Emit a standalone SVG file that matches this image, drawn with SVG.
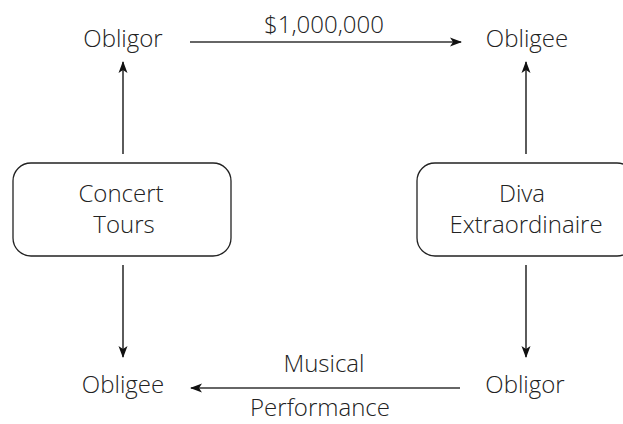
<svg xmlns="http://www.w3.org/2000/svg" width="623" height="424" viewBox="0 0 623 424">
<style>
text{font-family:"Open Sans","Noto Sans","Liberation Sans",sans-serif;font-size:24px;font-weight:300;fill:#222;text-anchor:middle}
.box{fill:#fff;stroke:#222;stroke-width:1.3}
.c{stroke:#333;stroke-width:1.6;fill:none;marker-end:url(#ah)}
</style>
<defs>
<marker id="ah" viewBox="0 0 12 10" refX="11" refY="5" markerWidth="12" markerHeight="10" markerUnits="userSpaceOnUse" orient="auto">
<path d="M0,0.5 L12,5 L0,9.5 L3,5 Z" fill="#111"/>
</marker>
</defs>
<rect width="623" height="424" fill="#fff"/>
<g id="obligor-top"><text x="123" y="47">Obligor</text></g>
<g id="obligee-top"><text x="527" y="47">Obligee</text></g>
<g id="concert-tours"><rect class="box" x="13" y="163" width="218" height="93" rx="18"/><text x="121" y="202">Concert</text><text x="124" y="233">Tours</text></g>
<g id="diva"><rect class="box" x="417" y="163" width="218" height="93" rx="18"/><text x="522" y="202">Diva</text><text x="526" y="233">Extraordinaire</text></g>
<g id="obligee-bottom"><text x="123" y="393">Obligee</text></g>
<g id="obligor-bottom"><text x="525" y="393">Obligor</text></g>
<g id="connectors">
<line class="c" x1="190" y1="42" x2="461" y2="42"/>
<line class="c" x1="123" y1="154" x2="123" y2="62"/>
<line class="c" x1="526" y1="154" x2="526" y2="62"/>
<line class="c" x1="123" y1="265" x2="123" y2="357"/>
<line class="c" x1="526" y1="265" x2="526" y2="357"/>
<line class="c" x1="460" y1="388" x2="191" y2="388"/>
<text x="324" y="33">$1,000,000</text>
<text x="324" y="372">Musical</text>
<text x="320" y="416">Performance</text>
</g>
</svg>
